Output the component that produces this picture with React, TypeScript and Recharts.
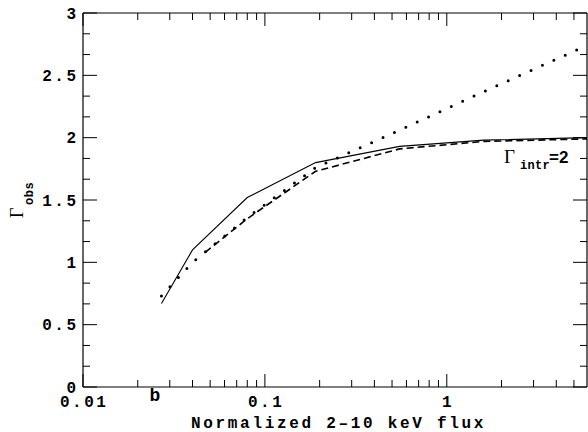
import React from 'react';
import { LineChart, Line, XAxis, YAxis } from 'recharts';

// normalized 2-10 keV flux (x) and observed photon index (y)
const flux = [0.027, 0.04, 0.047, 0.08, 0.19, 0.55, 1.6, 5.9];
const gammaSolid = [0.67, 1.1, null, 1.52, 1.8, 1.93, 1.98, 2.0];
const gammaDashed = [null, null, 1.08, 1.35, 1.73, 1.91, 1.97, 1.99];
const gammaDotted = [0.73, 1.0, null, 1.36, 1.76, 2.06, 2.37, 2.74];

const xTicks = [
    0.01, 0.02, 0.03, 0.04, 0.05, 0.06, 0.07, 0.08, 0.09,
    0.1, 0.2, 0.3, 0.4, 0.5, 0.6, 0.7, 0.8, 0.9,
    1, 2, 3, 4, 5,
];
const xMajorTicks = [0.01, 0.1, 1];
const xTickLabels = ['0.01', '0.1', '1'];

const yTicks = [
    0, 0.1667, 0.3333, 0.5, 0.6667, 0.8333, 1, 1.1667, 1.3333, 1.5,
    1.6667, 1.8333, 2, 2.1667, 2.3333, 2.5, 2.6667, 2.8333, 3,
];
const yMajorTicks = [0, 0.5, 1, 1.5, 2, 2.5, 3];
const yTickLabels = ['0', '0.5', '1', '1.5', '2', '2.5', '3'];

const data = flux.map((f, i) => ({
    flux: f,
    solid: gammaSolid[i],
    dashed: gammaDashed[i],
    dotted: gammaDotted[i],
}));

const monoFont = "'Liberation Mono', 'DejaVu Sans Mono', monospace";

const XTick = ({ x, y, payload, side }: any) => {
    const v = payload.value;
    const idx = xMajorTicks.indexOf(v);
    const len = idx >= 0 ? 13 : 7;
    const dir = side === 'bottom' ? -1 : 1;
    return (
        <g>
            <line x1={x} y1={y} x2={x} y2={y + dir * len} stroke="#000" strokeWidth={1} />
            {side === 'bottom' && idx >= 0 && (
                <text
                    x={x + 1.2}
                    y={y + 20}
                    textAnchor="middle"
                    fontFamily={monoFont}
                    fontWeight="bold"
                    fontSize={16}
                    letterSpacing={2.5}
                    fill="#000"
                >
                    {xTickLabels[idx]}
                </text>
            )}
        </g>
    );
};

const YTick = ({ x, y, payload, side }: any) => {
    const v = payload.value;
    const idx = yMajorTicks.findIndex((m) => Math.abs(m - v) < 0.01);
    const len = idx >= 0 ? 14 : 7;
    const dir = side === 'left' ? 1 : -1;
    return (
        <g>
            <line x1={x} y1={y} x2={x + dir * len} y2={y} stroke="#000" strokeWidth={1} />
            {side === 'left' && idx >= 0 && (
                <text
                    x={x - 4.5}
                    y={y + 5.5}
                    textAnchor="end"
                    fontFamily={monoFont}
                    fontWeight="bold"
                    fontSize={16}
                    letterSpacing={2.5}
                    fill="#000"
                >
                    {yTickLabels[idx]}
                </text>
            )}
        </g>
    );
};

export default function App() {
    const W = 588;
    const H = 432;
    return (
        <div style={{ position: 'absolute', left: 0, top: 0, width: W, height: H, background: '#fff' }}>
            <LineChart
                width={W}
                height={H}
                data={data}
                margin={{ top: 12, right: 0, bottom: 44, left: 82 }}
            >
                <XAxis
                    dataKey="flux"
                    type="number"
                    scale="log"
                    domain={[0.01, 5.9]}
                    allowDataOverflow
                    ticks={xTicks}
                    interval={0}
                    height={1}
                    tickSize={0}
                    tickMargin={0}
                    tickLine={false}
                    axisLine={{ stroke: '#000', strokeWidth: 1.2 }}
                    tick={<XTick side="bottom" />}
                />
                <XAxis
                    xAxisId="top"
                    orientation="top"
                    dataKey="flux"
                    type="number"
                    scale="log"
                    domain={[0.01, 5.9]}
                    allowDataOverflow
                    ticks={xTicks}
                    interval={0}
                    height={1}
                    tickSize={0}
                    tickMargin={0}
                    tickLine={false}
                    axisLine={{ stroke: '#000', strokeWidth: 1.2 }}
                    tick={<XTick side="top" />}
                />
                <YAxis
                    type="number"
                    domain={[0, 3]}
                    allowDataOverflow
                    ticks={yTicks}
                    interval={0}
                    width={1}
                    tickSize={0}
                    tickMargin={0}
                    tickLine={false}
                    axisLine={{ stroke: '#000', strokeWidth: 1.2 }}
                    tick={<YTick side="left" />}
                />
                <YAxis
                    yAxisId="right"
                    orientation="right"
                    type="number"
                    domain={[0, 3]}
                    allowDataOverflow
                    ticks={yTicks}
                    interval={0}
                    width={1}
                    tickSize={0}
                    tickMargin={0}
                    tickLine={false}
                    axisLine={{ stroke: '#000', strokeWidth: 1.2 }}
                    tick={<YTick side="right" />}
                />
                <Line
                    dataKey="solid"
                    type="linear"
                    stroke="#000"
                    strokeWidth={1.1}
                    dot={false}
                    connectNulls
                    isAnimationActive={false}
                />
                <Line
                    dataKey="dashed"
                    type="linear"
                    stroke="#000"
                    strokeWidth={1.6}
                    strokeDasharray="7 4"
                    dot={false}
                    connectNulls
                    isAnimationActive={false}
                />
                <Line
                    dataKey="dotted"
                    type="linear"
                    stroke="#000"
                    strokeWidth={3}
                    strokeLinecap="round"
                    strokeDasharray="0 12.5"
                    dot={false}
                    connectNulls
                    isAnimationActive={false}
                />
            </LineChart>
            <svg
                width={W}
                height={H}
                style={{ position: 'absolute', left: 0, top: 0, pointerEvents: 'none' }}
            >
                {/* y axis title */}
                <g transform="translate(23,218) rotate(-90)">
                    <text x={0} y={0} fontFamily="'Liberation Serif', serif" fontSize={18} fill="#000">
                        Γ
                    </text>
                    <text
                        x={13}
                        y={10}
                        fontFamily={monoFont}
                        fontWeight="bold"
                        fontSize={12}
                        letterSpacing={0.5}
                        fill="#000"
                    >
                        obs
                    </text>
                </g>
                {/* x axis title */}
                <text
                    x={338.5}
                    y={428}
                    textAnchor="middle"
                    fontFamily={monoFont}
                    fontWeight="bold"
                    fontSize={16}
                    letterSpacing={2.7}
                    fill="#000"
                >
                    Normalized 2–10 keV flux
                </text>
                {/* panel letter */}
                <text
                    x={155}
                    y={401}
                    textAnchor="middle"
                    fontFamily={monoFont}
                    fontWeight="bold"
                    fontSize={18}
                    fill="#000"
                >
                    b
                </text>
                {/* curve label */}
                <text x={504} y={163} fontFamily="'Liberation Serif', serif" fontSize={19} fill="#000">
                    Γ
                </text>
                <text
                    x={520}
                    y={169}
                    fontFamily={monoFont}
                    fontWeight="bold"
                    fontSize={12}
                    letterSpacing={0.3}
                    fill="#000"
                >
                    intr
                </text>
                <text
                    x={549}
                    y={163}
                    fontFamily="'Liberation Sans', Arial, sans-serif"
                    fontWeight="bold"
                    fontSize={17}
                    fill="#000"
                >
                    =2
                </text>
            </svg>
        </div>
    );
}
